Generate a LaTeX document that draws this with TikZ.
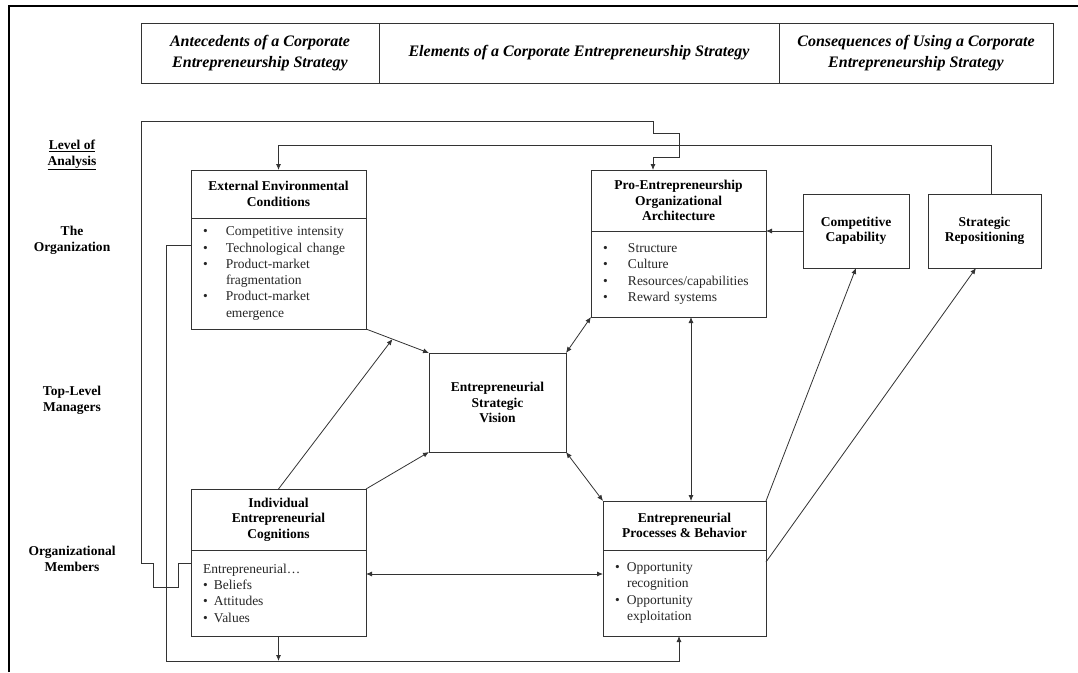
\documentclass[tikz,border=0pt]{standalone}
\usepackage{fontspec}
\setmainfont{Liberation Serif}
\usetikzlibrary{positioning,arrows.meta}

\newcommand{\blt}[1]{\makebox[#1][l]{\textbullet}}

\begin{document}
\begin{tikzpicture}[
    x=1pt,y=-1pt,
    every node/.style={inner sep=0pt, outer sep=0pt},
    cell/.style={draw=black!80, line width=1pt, font=\fontsize{16}{21}\selectfont\bfseries\itshape,
        align=center, minimum height=60pt, anchor=north west},
    head/.style={draw=black!80, line width=1pt, font=\fontsize{13.5}{15.5}\selectfont\bfseries,
        align=center, anchor=north west},
    list/.style={draw=black!80, line width=1pt, font=\fontsize{13.5}{16.3}\selectfont,
        align=left, inner xsep=12pt, text=black!85},
    rowlabel/.style={font=\fontsize{13.5}{16}\selectfont\bfseries, align=center},
    link/.style={draw=black!80, line width=0.8pt, -{Latex[length=6pt,width=5pt]}},
    twoway/.style={link, {Latex[length=6pt,width=5pt]}-{Latex[length=6pt,width=5pt]}}
]
\useasboundingbox (0,0) rectangle (1078,672);
\draw[line width=2pt] (9,672) -- (9,6) -- (1078,6);

% column headings
\node[cell, minimum width=238pt] (antec) at (141,23) {Antecedents of a Corporate\\Entrepreneurship Strategy};
\node[cell, minimum width=400pt, right=0pt of antec] (elem) {Elements of a Corporate Entrepreneurship Strategy};
\node[cell, minimum width=274pt, right=0pt of elem] (conseq) {Consequences of Using a Corporate\\Entrepreneurship Strategy};

% levels of analysis
\node[rowlabel] (lvl) at (72,155) {\underline{Level of}\\\underline{Analysis}};
\node[rowlabel] (org) at (72,240) {The\\Organization};
\node[rowlabel] (top) at (72,400) {Top-Level\\Managers};
\node[rowlabel] (mem) at (72,559) {Organizational\\Members};

% boxes
\node[head, minimum width=175pt, minimum height=48pt] (exthead) at (191,170) {External Environmental\\Conditions};
\node[list, text width=151pt, minimum height=111pt, below=0pt of exthead] (extlist)
    {\blt{23pt}Competitive intensity\\ \blt{23pt}Technological change\\ \blt{23pt}Product-market\\
     \hspace*{23pt}fragmentation\\ \blt{23pt}Product-market\\ \hspace*{23pt}emergence};

\node[head, minimum width=175pt, minimum height=61pt] (prohead) at (591,170) {Pro-Entrepreneurship\\Organizational\\Architecture};
\node[list, text width=151pt, minimum height=86pt, below=0pt of prohead] (prolist)
    {\blt{25pt}Structure\\ \blt{25pt}Culture\\ \blt{25pt}Resources/capabilities\\ \blt{25pt}Reward systems};

\node[head, minimum width=106pt, minimum height=74pt] (comp) at (803,194) {Competitive\\Capability};
\node[head, minimum width=113pt, minimum height=74pt] (strat) at (928,194) {Strategic\\Repositioning};

\node[head, minimum width=137pt, minimum height=99pt] (vision) at (429,353) {Entrepreneurial\\Strategic\\Vision};

\node[head, minimum width=175pt, minimum height=61pt] (indhead) at (191,489) {Individual\\Entrepreneurial\\Cognitions};
\node[list, text width=151pt, minimum height=86pt, below=0pt of indhead] (indlist)
    {Entrepreneurial…\\ \blt{11pt}Beliefs\\ \blt{11pt}Attitudes\\ \blt{11pt}Values};

\node[head, minimum width=163pt, minimum height=49pt] (enthead) at (603,501) {Entrepreneurial\\Processes \& Behavior};
\node[list, text width=139pt, minimum height=86pt, below=0pt of enthead] (entlist)
    {\blt{12pt}Opportunity\\ \hspace*{12pt}recognition\\ \blt{12pt}Opportunity\\ \hspace*{12pt}exploitation};

% feedback loops
\coordinate (bend) at (166,661);
\draw[link] ([yshift=-13pt]indlist.north west) -- (178,563) -- (178,587) -- (153,587) -- (153,563)
    -- (141,563) -- (141,121) -- (653,121) -- (653,133) -- (679,133) -- (679,157) -- (653,157)
    -- ([xshift=-25.5pt]prohead.north);
\draw[link] ([xshift=6.5pt]strat.north) -- ++(0,-49) -| (exthead.north);
\draw[link] ([yshift=-27pt]extlist.north west) -- (bend |- 0,245) -- (bend) -| ([xshift=-5.5pt]entlist.south);
\draw[link] (indlist.south) -- (indlist.south |- bend);

% links between elements
\draw[link] (extlist.south east) -- coordinate[pos=0.42] (hit) (vision.north west);
\draw[link] (indhead.north) -- (hit);
\draw[link] (indhead.north east) -- (vision.south west);
\draw[twoway] (vision.north east) -- (prolist.south west);
\draw[twoway] (vision.south east) -- (enthead.north west);
\draw[twoway] ([xshift=12.5pt]prolist.south) -- ([xshift=12.5pt]prolist.south |- enthead.north);
\draw[twoway] ([yshift=19pt]indlist.east) -- ([yshift=19pt]indlist.east -| entlist.west);
\draw[link] (comp.west) -- (prohead.south east);
\draw[link] (enthead.north east) -- (comp.south);
\draw[link] ([yshift=-12pt]entlist.north east) -- ([xshift=-8.5pt]strat.south);
\end{tikzpicture}
\end{document}
